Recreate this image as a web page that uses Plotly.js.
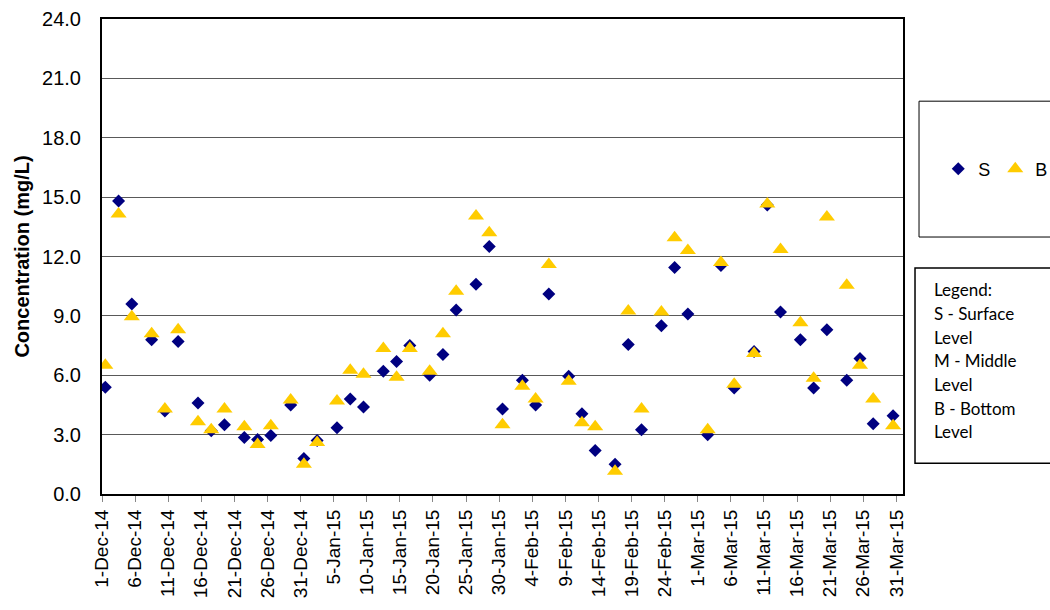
<!DOCTYPE html>
<html>
<head>
<meta charset="utf-8">
<script src="https://cdn.plot.ly/plotly-3.0.1.min.js"></script>
<style>
  html, body { margin: 0; padding: 0; background: #ffffff; }
  #chart { width: 1050px; height: 610px; }
</style>
</head>
<body>
<div id="chart"></div>
<script>
// Sampling dates (Mon / Wed / Fri)
var dates = ['2014-12-01','2014-12-03','2014-12-05','2014-12-08','2014-12-10','2014-12-12',
  '2014-12-15','2014-12-17','2014-12-19','2014-12-22','2014-12-24','2014-12-26','2014-12-29',
  '2014-12-31','2015-01-02','2015-01-05','2015-01-07','2015-01-09','2015-01-12','2015-01-14',
  '2015-01-16','2015-01-19','2015-01-21','2015-01-23','2015-01-26','2015-01-28','2015-01-30',
  '2015-02-02','2015-02-04','2015-02-06','2015-02-09','2015-02-11','2015-02-13','2015-02-16',
  '2015-02-18','2015-02-20','2015-02-23','2015-02-25','2015-02-27','2015-03-02','2015-03-04',
  '2015-03-06','2015-03-09','2015-03-11','2015-03-13','2015-03-16','2015-03-18','2015-03-20',
  '2015-03-23','2015-03-25','2015-03-27','2015-03-30'];

// S - Surface level (mg/L)
var surface = [5.4,14.8,9.6,7.8,4.2,7.7,4.6,3.2,3.5,2.85,2.75,2.95,4.5,1.8,2.7,3.35,4.8,4.4,
  6.2,6.7,7.5,6.0,7.05,9.3,10.6,12.5,4.3,5.75,4.5,10.1,5.95,4.05,2.2,1.5,7.55,3.25,8.5,11.45,
  9.1,3.0,11.55,5.35,7.2,14.6,9.2,7.8,5.35,8.3,5.75,6.85,3.55,3.95];

// B - Bottom level (mg/L)
var bottom = [6.5,14.15,8.95,8.1,4.3,8.3,3.65,3.25,4.3,3.4,2.5,3.45,4.75,1.5,2.6,4.7,6.25,6.05,
  7.35,5.9,7.35,6.2,8.1,10.25,14.05,13.2,3.5,5.45,4.8,11.6,5.7,3.6,3.4,1.15,9.25,4.3,9.2,12.95,
  12.3,3.25,11.7,5.55,7.1,14.65,12.35,8.65,5.85,14.0,10.55,6.5,4.8,3.45];

var seriesNames = ['S', 'B'];
var noteLines = ['Legend:', 'S - Surface', 'Level', 'M - Middle', 'Level', 'B - Bottom', 'Level'];
var yTitle = 'Concentration (mg/L)';

// Points sit in the middle of their day slot (date axis "between tick marks")
var xMid = dates.map(function (d) { return d + ' 12:00'; });

var traces = [
  { x: xMid, y: surface, name: seriesNames[0], type: 'scatter', mode: 'markers',
    marker: { symbol: 'diamond', size: 10, color: '#000080' } },
  { x: xMid, y: bottom, name: seriesNames[1], type: 'scatter', mode: 'markers',
    marker: { symbol: 'triangle-up', size: 14, color: '#FFCC00' } }
];

var annotations = noteLines.map(function (t, i) {
  return { xref: 'paper', yref: 'paper', x: 1.036, y: 0.430 - i * 0.0499,
    xanchor: 'left', yanchor: 'middle', showarrow: false, align: 'left',
    text: t, font: { family: 'Lato, sans-serif', size: 17, color: '#000' } };
});

var layout = {
  width: 1050, height: 610,
  margin: { l: 102, r: 147, t: 19, b: 116, autoexpand: false },
  paper_bgcolor: '#ffffff', plot_bgcolor: '#ffffff',
  showlegend: true,
  legend: { orientation: 'h', x: 1.044, y: 0.684, xanchor: 'left', yanchor: 'middle',
    font: { family: 'Liberation Sans, Arial, sans-serif', size: 18, color: '#000' },
    bgcolor: 'rgba(0,0,0,0)', borderwidth: 0 },
  xaxis: {
    type: 'date',
    range: ['2014-12-01', '2015-04-01'],
    tick0: '2014-12-01', dtick: 5 * 86400000,
    tickformat: '%-d-%b-%y', tickangle: -90,
    ticks: 'outside', ticklen: 6, tickcolor: '#888', tickwidth: 1,
    showgrid: false, zeroline: false,
    showline: true, linecolor: '#000', linewidth: 2, mirror: true,
    tickfont: { family: 'Liberation Sans, Arial, sans-serif', size: 19, color: '#000' }
  },
  yaxis: {
    range: [0, 24], dtick: 3, tick0: 0, tickformat: '.1f',
    ticks: '', ticklabelstandoff: 15,
    showgrid: true, gridcolor: '#595959', gridwidth: 1, zeroline: false,
    showline: true, linecolor: '#000', linewidth: 2, mirror: true,
    tickfont: { family: 'Liberation Sans, Arial, sans-serif', size: 20, color: '#000' },
    title: { text: yTitle, standoff: 7,
      font: { family: 'Liberation Sans, Arial, sans-serif', size: 20, color: '#000', weight: 'bold' } }
  },
  shapes: [
    { type: 'rect', xref: 'paper', yref: 'paper', x0: 1.02, x1: 1.2, y0: 0.541, y1: 0.827,
      line: { color: '#000', width: 1 }, fillcolor: 'rgba(0,0,0,0)' },
    { type: 'rect', xref: 'paper', yref: 'paper', x0: 1.015, x1: 1.2, y0: 0.065, y1: 0.476,
      line: { color: '#000', width: 1.5 }, fillcolor: 'rgba(0,0,0,0)' }
  ],
  annotations: annotations
};

Plotly.newPlot('chart', traces, layout, { displayModeBar: false, staticPlot: true });
</script>
</body>
</html>
